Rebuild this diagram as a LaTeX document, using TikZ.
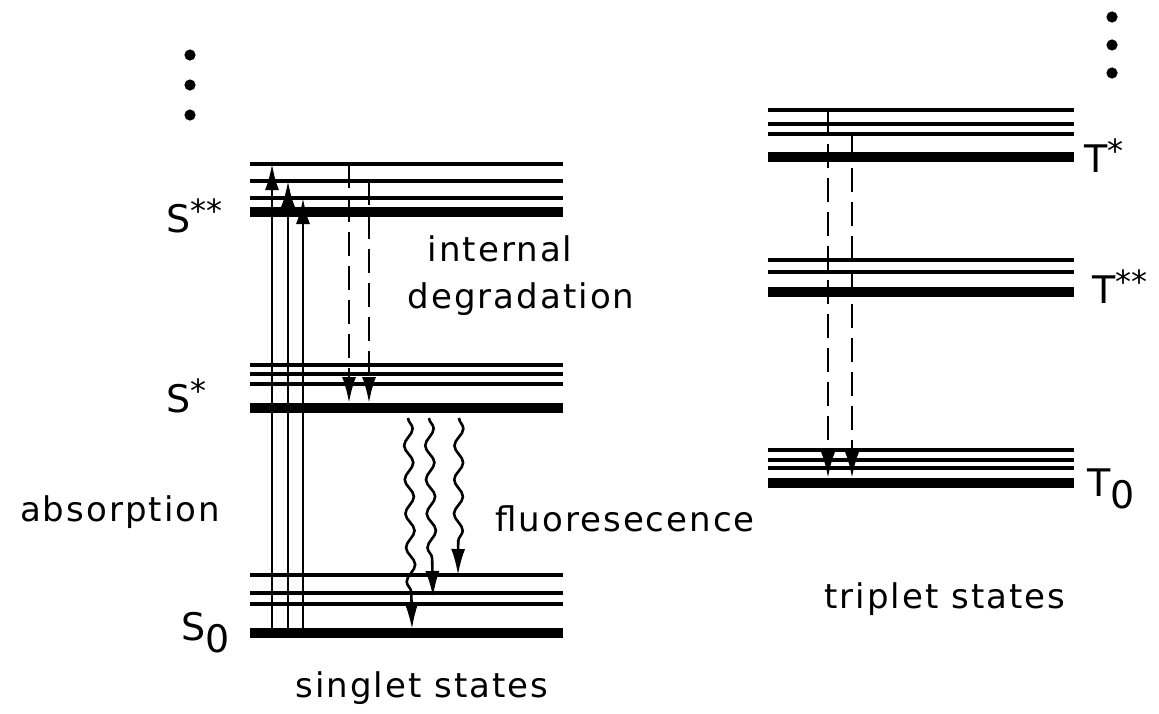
\documentclass[tikz,border=0pt]{standalone}
\usepackage{fontspec}
\setmainfont{DejaVu Sans}
\newfontfamily\lblfont{DejaVu Sans}[LetterSpace=6]
\usetikzlibrary{positioning,arrows.meta,decorations.pathmorphing}

% raised stars and lowered index for the state labels
\newcommand{\hstar}[1]{\raisebox{5pt}{\fontsize{16}{16}\selectfont #1}}
\newcommand{\lidx}[1]{\raisebox{-6pt}{#1}}

\begin{document}
\begin{tikzpicture}[
	  x=0.5pt, y=-0.5pt,
	  %style for absorption arrows
	  arrw/.style={line width=1.3pt, -{Latex[length=13pt,width=7pt]}},
	  %style for radiationless transitions
	  dsh/.style={arrw, dash pattern=on 12pt off 5pt},
	  %style for emission
	  wvy/.style={arrw, decorate, decoration={snake, segment length=17pt, amplitude=2.2pt, post length=14pt}},
	  % thin and thick levels
	  thn/.style={line width=1.6pt},
	  thk/.style={line width=5pt},
	  % texts
	  txt/.style={font=\lblfont\fontsize{17}{19}\selectfont, anchor=base, inner sep=0pt},
	  st/.style={font=\fontsize{19}{21}\selectfont, anchor=base west, inner sep=0pt}]

      \useasboundingbox (0,0) rectangle (1159,713);

      %levels, singlet side
      \foreach \n/\y in {S2a/164,S2b/181,S2c/198,S1a/365,S1b/374,S1c/384,S0a/575,S0b/593,S0c/604}
        \draw[thn] (250,\y) coordinate (\n) -- (563,\y);
      \foreach \n/\y in {S2/212,S1/408,S0/633}
        \draw[thk] (250,\y) coordinate (\n) -- (563,\y);
      %levels, triplet side
      \foreach \n/\y in {T2a/110,T2b/124,T2c/134,T1a/260,T1b/272,T0a/450,T0b/460,T0c/468}
        \draw[thn] (768,\y) coordinate (\n) -- (1074,\y);
      \foreach \n/\y in {T2/157,T1/292,T0/483}
        \draw[thk] (768,\y) coordinate (\n) -- (1074,\y);

      %dots
      \foreach \y in {55,85,115} \fill (190,\y) circle[radius=2.8pt];
      \foreach \y in {17,45,73} \fill (1112,\y) circle[radius=2.8pt];

      %labels
      \node[st](lS2) at (166,232){S\hstar{**}};
      \node[st](lS1) at (166,412){S\hstar{*}};
      \node[st](lS0) at (181,640){S\lidx{0}};
      \node[st](lT2) at (1084,172){T\hstar{*}};
      \node[st](lT1) at (1092,303){T\hstar{**}};
      \node[st](lT0) at (1087,496){T\lidx{0}};

      \node[txt](intl) at (500,261){internal};
      \node[txt](degr) at (521,308){degradation};
      \node[txt](absn) at (120,521){absorption};
      \node[txt](fluo) at (625,531){fluoresecence};
      \node[txt](sing) at (422,697){singlet states};
      \node[txt](trip) at (945,608){triplet states};

      %edges
      \draw[arrw]([xshift=11pt]S0) -- ([xshift=11pt]S2a);
      \draw[arrw]([xshift=19pt]S0) -- ([xshift=19pt]S2b);
      \draw[arrw]([xshift=26.5pt]S0) -- ([xshift=26.5pt]S2c);

      \draw[dsh,shorten >=2.5pt]([xshift=49.5pt]S2a) -- ([xshift=49.5pt]S1);
      \draw[dsh,shorten >=2.5pt]([xshift=59.5pt]S2b) -- ([xshift=59.5pt]S1);

      \draw[wvy]([xshift=79pt,yshift=-5pt]S1) -- ([xshift=81pt,yshift=2pt]S0);
      \draw[wvy]([xshift=89.5pt,yshift=-5pt]S1) -- ([xshift=91.5pt,yshift=-2pt]S0b);
      \draw[wvy]([xshift=104.5pt,yshift=-5pt]S1) -- ([xshift=104pt]S0a);

      \draw[dsh,shorten >=2.5pt]([xshift=30pt]T2a) -- ([xshift=30pt]T0);
      \draw[dsh,shorten >=2.5pt]([xshift=42pt]T2c) -- ([xshift=42pt]T0);
\end{tikzpicture}
\end{document}
